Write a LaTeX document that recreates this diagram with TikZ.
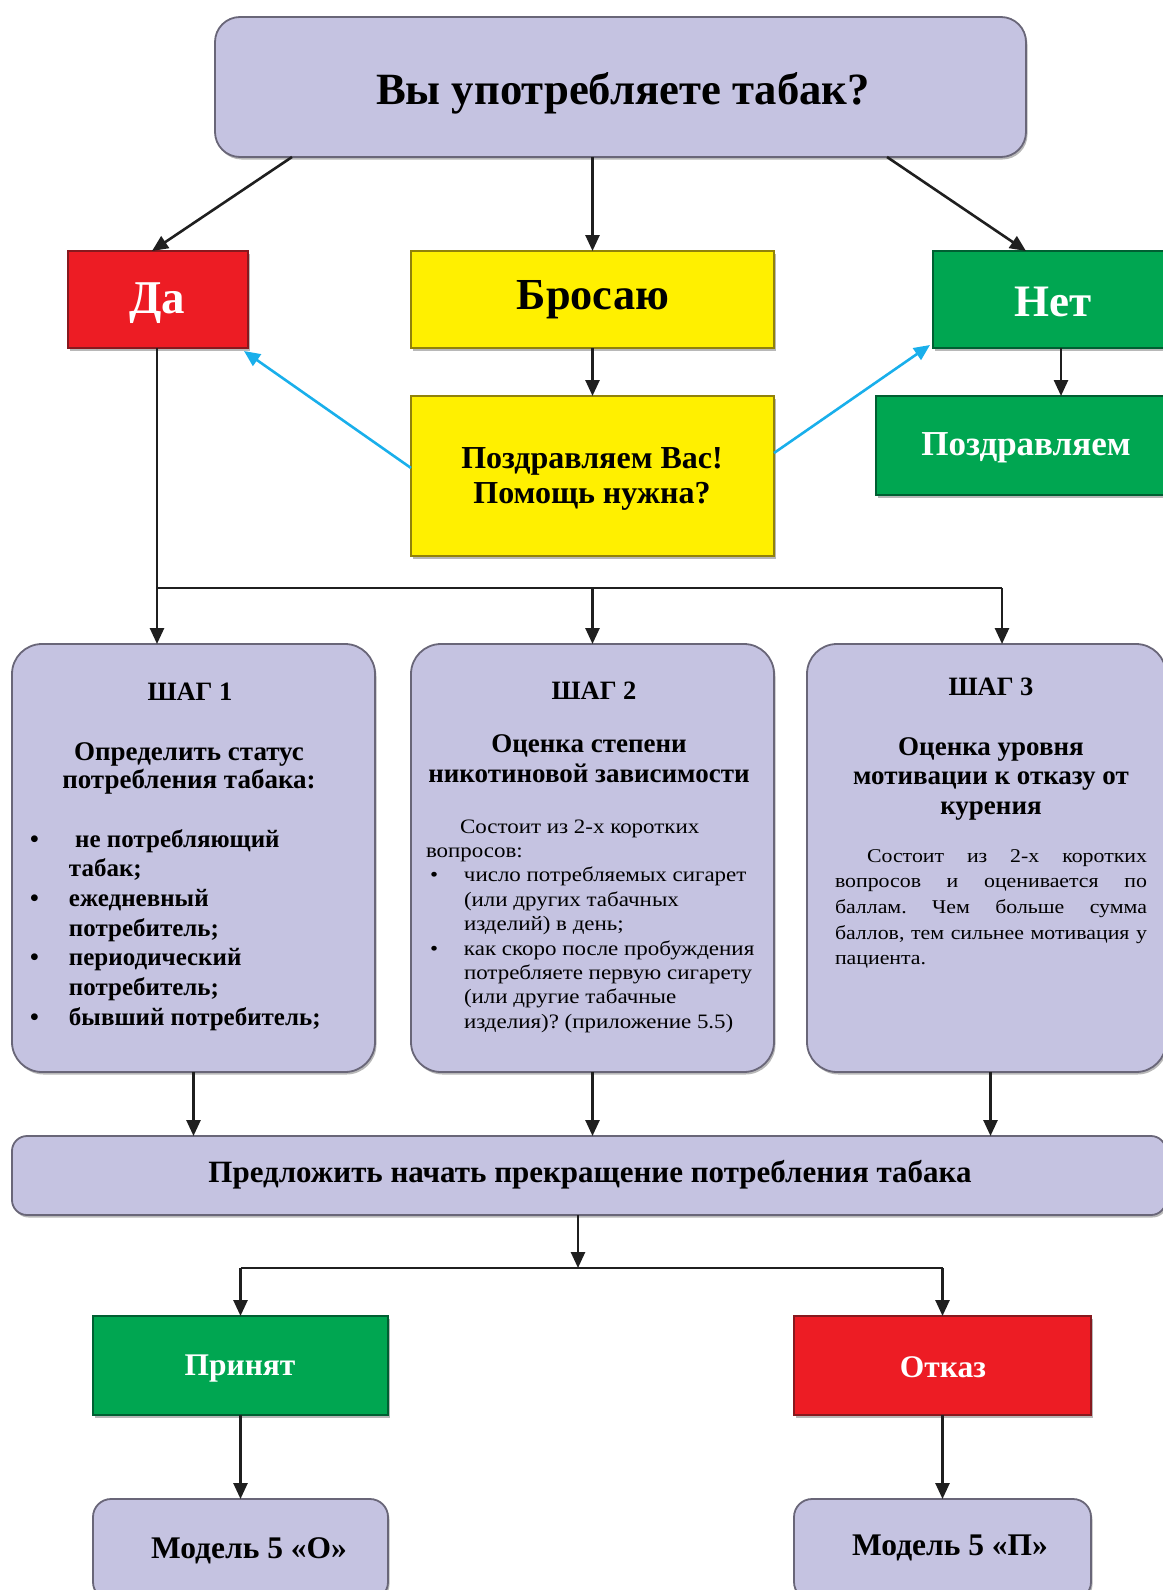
\documentclass[tikz,border=0pt]{standalone}
\usepackage{fontspec}
\setmainfont{Liberation Serif}
\newfontfamily\widefont[FakeStretch=1.12]{Liberation Serif}
\usetikzlibrary{arrows.meta,shadows}
\frenchspacing
\definecolor{lav}{RGB}{197,195,225}
\definecolor{lavb}{RGB}{105,102,120}
\definecolor{rred}{RGB}{237,28,36}
\definecolor{rredb}{RGB}{135,25,30}
\definecolor{yel}{RGB}{255,240,0}
\definecolor{yelb}{RGB}{145,130,10}
\definecolor{grn}{RGB}{0,166,81}
\definecolor{grnb}{RGB}{0,95,50}
\definecolor{blu}{RGB}{25,175,235}
\newcommand{\clines}[1]{\begin{tabular}[t]{@{}c@{}}#1\end{tabular}}
\newcommand{\llines}[1]{\begin{tabular}[t]{@{}l@{}}#1\end{tabular}}
\newcommand{\jline}[1]{\makebox[312pt][s]{#1}}
\tikzset{
  box/.style={draw, line width=1.8pt, inner sep=0pt, outer sep=0pt,
    drop shadow={shadow xshift=1.5pt, shadow yshift=-2.5pt, fill=black!28, opacity=1}},
  lavbox/.style={box, fill=lav, draw=lavb},
  redbox/.style={box, fill=rred, draw=rredb},
  yelbox/.style={box, fill=yel, draw=yelb},
  grnbox/.style={box, fill=grn, draw=grnb},
  arr/.style={draw=black!88, line width=2.6pt, -{Triangle[length=16pt,width=14pt]}},
  ln/.style={draw=black!88, line width=2.6pt},
  barr/.style={draw=blu, line width=2.6pt, -{Triangle[length=16pt,width=14pt]}},
  txt/.style={inner sep=0pt, outer sep=0pt, anchor=base},
  wtxt/.style={txt, text=white}
}
\begin{document}
\begin{tikzpicture}[x=1pt,y=-1pt]
\useasboundingbox (0,0) rectangle (1162,1590);
% boxes
\node[lavbox, rounded corners=25pt, minimum width=811pt, minimum height=140pt] (top) at (620.5,87) {};
\node[redbox, minimum width=180pt, minimum height=97pt] (da) at (158,299.5) {};
\node[yelbox, minimum width=363pt, minimum height=97pt] (bros) at (592.5,299.5) {};
\node[grnbox, minimum width=232pt, minimum height=97pt] (net) at (1049,299.5) {};
\node[grnbox, minimum width=289pt, minimum height=99pt] (pozd) at (1020.5,445.5) {};
\node[yelbox, minimum width=363pt, minimum height=160pt] (pozdvas) at (592.5,476) {};
\node[lavbox, rounded corners=30pt, minimum width=363pt, minimum height=428pt] (s1) at (193.5,858) {};
\node[lavbox, rounded corners=30pt, minimum width=363pt, minimum height=428pt] (s2) at (592.5,858) {};
\node[lavbox, rounded corners=30pt, minimum width=359pt, minimum height=428pt] (s3) at (986.5,858) {};
\node[lavbox, rounded corners=15pt, minimum width=1154pt, minimum height=79pt] (offer) at (589,1175.5) {};
\node[grnbox, minimum width=295pt, minimum height=99pt] (prin) at (240.5,1365.5) {};
\node[redbox, minimum width=297pt, minimum height=99pt] (otk) at (942.5,1365.5) {};
\node[lavbox, rounded corners=18pt, minimum width=295pt, minimum height=101pt] (modO) at (240.5,1549.5) {};
\node[lavbox, rounded corners=18pt, minimum width=297pt, minimum height=101pt] (modP) at (942.5,1549.5) {};
% texts
\node[txt, font=\bfseries\fontsize{44.7}{50}\selectfont] (topt) at (623,104) {Вы употребляете табак?};
\node[wtxt, font=\bfseries\fontsize{47}{50}\selectfont] (dat) at (157,313) {Да};
\node[txt, font=\bfseries\fontsize{44.3}{50}\selectfont] (brost) at (593,309) {Бросаю};
\node[wtxt, font=\bfseries\fontsize{45}{50}\selectfont] (nett) at (1053,316) {Нет};
\node[wtxt, font=\bfseries\fontsize{35}{40}\selectfont] (pozdt) at (1026,455) {Поздравляем};
\node[txt, font=\bfseries\fontsize{32}{35}\selectfont] (pozdvast) at (592,468) {\clines{Поздравляем Вас!\\Помощь нужна?}};
\node[txt, font=\bfseries\fontsize{31}{36}\selectfont] (offert) at (590,1182) {Предложить начать прекращение потребления табака};
\node[wtxt, font=\bfseries\fontsize{31.5}{36}\selectfont] (print) at (240,1375) {Принят};
\node[wtxt, font=\bfseries\fontsize{31.5}{36}\selectfont] (otkt) at (943,1377) {Отказ};
\node[txt, font=\bfseries\fontsize{31.5}{36}\selectfont] (modOt) at (249,1558) {Модель 5 «О»};
\node[txt, font=\bfseries\fontsize{31.5}{36}\selectfont] (modPt) at (950,1555) {Модель 5 «П»};
% step 1
\node[txt, font=\bfseries\fontsize{26.5}{30}\selectfont] (s1h) at (190,700) {ШАГ 1};
\node[txt, font=\bfseries\fontsize{27}{28.5}\selectfont] (s1t) at (189,760) {\clines{Определить статус\\потребления табака:}};
\node[txt, anchor=base west, font=\bfseries\fontsize{25}{29.7}\selectfont] (s1b) at (30,847)
 {\llines{\makebox[39pt][l]{•}\ не потребляющий\\\hspace*{39pt}табак;\\
  \makebox[39pt][l]{•}ежедневный\\\hspace*{39pt}потребитель;\\
  \makebox[39pt][l]{•}периодический\\\hspace*{39pt}потребитель;\\
  \makebox[39pt][l]{•}бывший потребитель;}};
% step 2
\node[txt, font=\bfseries\fontsize{26.5}{30}\selectfont] (s2h) at (594,699) {ШАГ 2};
\node[txt, font=\bfseries\fontsize{27}{30}\selectfont] (s2t) at (589,752) {\clines{Оценка степени\\никотиновой зависимости}};
\node[txt, anchor=base west, font=\widefont\fontsize{20.5}{24.4}\selectfont] (s2b) at (426,833)
 {\llines{\hspace*{34pt}Состоит из 2-х коротких\\вопросов:\\
  \hspace*{4pt}\makebox[34pt][l]{•}число потребляемых сигарет\\\hspace*{38pt}(или других табачных\\\hspace*{38pt}изделий) в день;\\
  \hspace*{4pt}\makebox[34pt][l]{•}как скоро после пробуждения\\\hspace*{38pt}потребляете первую сигарету\\\hspace*{38pt}(или другие табачные\\\hspace*{38pt}изделия)? (приложение 5.5)}};
% step 3
\node[txt, font=\bfseries\fontsize{26.5}{30}\selectfont] (s3h) at (991,695) {ШАГ 3};
\node[txt, font=\bfseries\fontsize{27}{29.5}\selectfont] (s3t) at (991,755) {\clines{Оценка уровня\\мотивации к отказу от\\курения}};
\node[txt, anchor=base west, font=\widefont\fontsize{19.5}{25.7}\selectfont] (s3b) at (835,862)
 {\llines{\jline{\hspace*{32pt}Состоит из 2-х коротких}\\\jline{вопросов и оценивается по}\\
  \jline{баллам. Чем больше сумма}\\\jline{баллов, тем сильнее мотивация у}\\пациента.}};
% connectors
\draw[arr] ([xshift=77pt]top.south west) -- ([xshift=84pt]da.north west);
\draw[arr] (top.south -| bros.north) -- (bros.north);
\draw[arr] ([xshift=-139pt]top.south east) -- ([xshift=93pt]net.north west);
\draw[arr] (bros.south) -- (pozdvas.north);
\draw[arr] ([xshift=12pt]net.south) -- ([xshift=12pt]net.south |- pozd.north);
\draw[barr] ([yshift=8pt]pozdvas.west) -- ([xshift=-4pt,yshift=-3pt]da.south east);
\draw[barr] ([yshift=23pt]pozdvas.east) -- ([xshift=-3pt,yshift=3pt]net.south west);
\coordinate (hl) at (157,588);
\coordinate (hr) at (1002,588);
\draw[arr] (da.south -| hl) -- (hl) -- (hl |- s1.north);
\draw[ln] (hl) -- (hr);
\draw[arr] (hl -| s2.north) -- (s2.north);
\draw[arr] (hr) -- (hr |- s3.north);
\draw[arr] (s1.south) -- (s1.south |- offer.north);
\draw[arr] (s2.south) -- (s2.south |- offer.north);
\draw[arr] ([xshift=4pt]s3.south) -- ([xshift=4pt]s3.south |- offer.north);
\coordinate (split) at (578,1268);
\draw[arr] (offer.south -| split) -- (split);
\draw[ln] (split -| prin.north) -- (split -| otk.north);
\draw[arr] (split -| prin.north) -- (prin.north);
\draw[arr] (split -| otk.north) -- (otk.north);
\draw[arr] (prin.south) -- (modO.north);
\draw[arr] (otk.south) -- (modP.north);
\end{tikzpicture}
\end{document}
